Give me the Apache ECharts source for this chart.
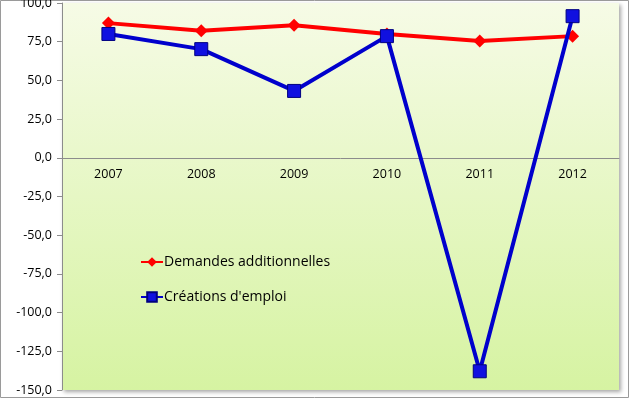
<!DOCTYPE html>
<html><head><meta charset="utf-8">
<script src="https://cdn.jsdelivr.net/npm/echarts@6/dist/echarts.min.js"></script>
<style>html,body{margin:0;padding:0;background:#fff}#c{width:630px;height:400px}</style>
</head><body><div id="c"></div>
<script>
const categories = ['2007','2008','2009','2010','2011','2012'];
const demandes = [87.0, 82.0, 85.7, 80.0, 75.4, 78.6];
const creations = [80.0, 70.2, 43.2, 78.6, -137.9, 91.5];
const seriesNames = ['Demandes additionnelles', "Créations d'emploi"];
const yMin = -150, yMax = 100;

const chart = echarts.init(document.getElementById('c'), null, {renderer:'canvas'});
const fmt = v => v.toFixed(1).replace('.', ',');
const gridTop = 3, gridBottom = 10, H = 400;
const plotH = H - gridTop - gridBottom;
const zeroOffset = -plotH * (0 - yMin) / (yMax - yMin);
chart.setOption({
  animation:false,
  backgroundColor:'#ffffff',
  graphic:[{type:'rect', shape:{x:0.5,y:0.5,width:628,height:397}, style:{fill:'none', stroke:'#9a9a9a', lineWidth:1}, silent:true}],
  grid:{left:62, right:11, top:gridTop, bottom:gridBottom, outerBoundsMode:'none', containLabel:false, show:true, borderWidth:0,
    backgroundColor:new echarts.graphic.LinearGradient(0,0,0,1,[{offset:0,color:'#f6fbe6'},{offset:1,color:'#d6f3a2'}]),
    shadowBlur:4, shadowColor:'rgba(0,0,0,0.35)', shadowOffsetX:2, shadowOffsetY:2},
  legend:{orient:'vertical', left:135, top:250, itemGap:21, itemWidth:22, itemHeight:12,
    textStyle:{fontFamily:'Open Sans', fontSize:14, color:'#000', padding:[0,0,0,-4]},
    data:seriesNames},
  xAxis:{type:'category', data:categories, boundaryGap:true, offset:zeroOffset,
    axisLine:{onZero:false, lineStyle:{color:'#8c8c8c', width:1}},
    axisTick:{show:false},
    axisLabel:{color:'#000', fontFamily:'Open Sans', fontSize:12.5, margin:10}},
  yAxis:{type:'value', min:yMin, max:yMax, interval:25,
    axisLine:{show:true, lineStyle:{color:'#8c8c8c'}},
    axisTick:{show:true, length:5, lineStyle:{color:'#8c8c8c'}},
    splitLine:{show:false},
    axisLabel:{color:'#000', fontFamily:'Open Sans', fontSize:12.5, margin:10, formatter:fmt}},
  series:[
    {name:seriesNames[0], type:'line', data:demandes, symbol:'diamond', symbolSize:13,
      lineStyle:{color:'#ff0000', width:4}, itemStyle:{color:'#ff0000'}, z:2},
    {name:seriesNames[1], type:'line', data:creations, symbol:'rect', symbolSize:13,
      lineStyle:{color:'#0000cc', width:4}, itemStyle:{color:'#1010e0', borderColor:'#000080', borderWidth:1}, z:3}
  ]
});
</script></body></html>
